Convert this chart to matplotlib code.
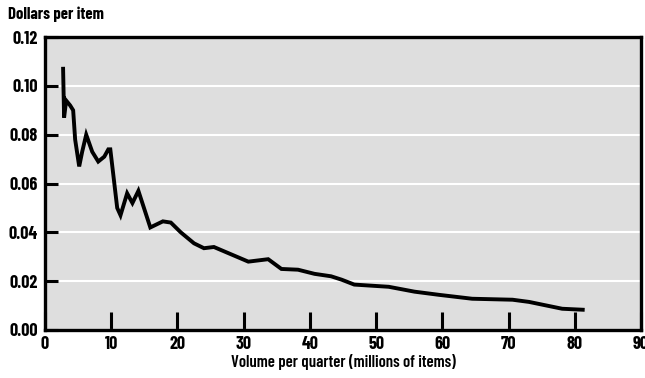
import matplotlib
matplotlib.use("Agg")
import matplotlib.pyplot as plt

# volume per quarter (millions of items) and cost (dollars per item)
volume = [2.73, 2.88, 3.19, 3.79, 4.25, 4.55, 5.16, 5.61, 6.22, 7.13, 8.04, 8.95,
          9.56, 9.86, 10.9, 11.4, 12.4, 13.2, 14.1, 15.9, 17.8, 19.0, 20.5, 22.5,
          24.0, 25.5, 28.1, 30.7, 33.7, 35.7, 38.2, 40.7, 43.2, 44.8, 46.7, 51.9,
          55.8, 59.5, 64.5, 70.6, 73.1, 78.1, 81.2]
cost = [0.107, 0.087, 0.094, 0.092, 0.090, 0.078, 0.067, 0.073, 0.080, 0.073, 0.069, 0.071,
        0.074, 0.074, 0.050, 0.047, 0.056, 0.052, 0.057, 0.042, 0.0445, 0.044, 0.040, 0.0355,
        0.0335, 0.034, 0.031, 0.028, 0.029, 0.025, 0.0247, 0.023, 0.022, 0.0206, 0.0186, 0.0177,
        0.0157, 0.0144, 0.0128, 0.0124, 0.0115, 0.0087, 0.0083]

xticks = [0, 10, 20, 30, 40, 50, 60, 70, 80, 90]
yticks = [0.00, 0.02, 0.04, 0.06, 0.08, 0.10, 0.12]

# narrow bold face, like the original print
plt.rcParams['font.family'] = ['Barlow Condensed', 'DejaVu Sans']
plt.rcParams['font.weight'] = 600

fig = plt.figure(figsize=(6.45, 3.78), dpi=100)
ax = fig.add_axes([0.0698, 0.127, 0.924, 0.775])
ax.set_facecolor('#dedede')

ax.plot(volume, cost, color='black', linewidth=2.8, solid_joinstyle='miter')

ax.set_xlim(0, 90)
ax.set_ylim(0, 0.12)
ax.set_xticks(xticks)
ax.set_yticks(yticks)
ax.set_xticklabels([str(t) for t in xticks], fontweight=700)
ax.set_yticklabels(['%.2f' % t for t in yticks], fontweight=700)
ax.tick_params(axis='x', direction='in', length=13, width=2.2, labelsize=13, pad=4)
ax.tick_params(axis='y', direction='in', length=9, width=2.2, labelsize=13, pad=5)
ax.yaxis.grid(True, color='white', linewidth=1.5)
ax.set_axisbelow(True)
for s in ax.spines.values():
    s.set_linewidth(2.4)

ax.set_xlabel('Volume per quarter (millions of items)', fontsize=12, fontweight=600, labelpad=1)
fig.text(0.012, 0.962, 'Dollars per item', fontsize=12, fontweight=700, ha='left', va='center')

fig.savefig('out.png', dpi=100)
